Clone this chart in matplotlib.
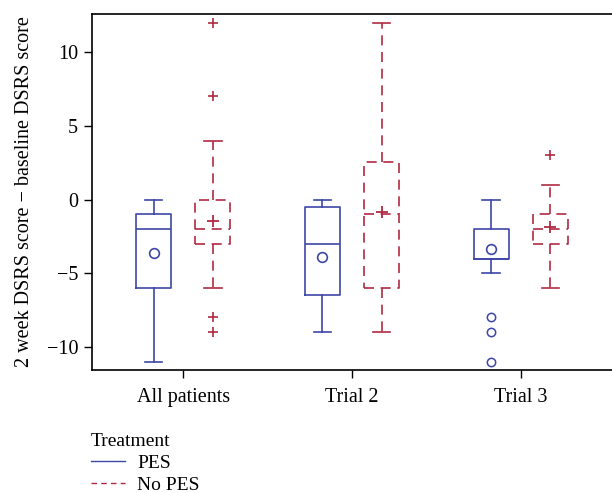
import matplotlib
matplotlib.use("Agg")
import matplotlib.pyplot as plt
from matplotlib.lines import Line2D

plt.rcParams['font.family'] = ['Liberation Serif', 'DejaVu Serif']

categories = ["All patients", "Trial 2", "Trial 3"]
groups = ["PES", "No PES"]

# PES stats per category
pes_whislo = [-11, -9, -5]
pes_q1 = [-6, -6.5, -4]
pes_med = [-2, -3, -4]
pes_q3 = [-1, -0.5, -2]
pes_whishi = [0, 0, 0]
pes_mean = [-3.63, -3.88, -3.33]
pes_fliers = [[], [], [-8, -9, -11]]

# No PES stats per category
nopes_whislo = [-6, -9, -6]
nopes_q1 = [-3, -6, -3]
nopes_med = [-2, -1, -2]
nopes_q3 = [0, 2.55, -1]
nopes_whishi = [4, 12, 1]
nopes_mean = [-1.46, -0.85, -1.86]
nopes_fliers = [[12, 7, -8, -9], [], [3]]

blue = "#3D47A6"
red = "#B02A42"

fig = plt.figure(figsize=(6.12, 4.93), dpi=100)
ax = fig.add_axes([0.1503, 0.2495, 0.8497, 0.7221])

def make_stats(lo, q1, med, q3, hi, mean, fl):
    return [dict(whislo=a, q1=b, med=c, q3=d, whishi=e, mean=m, fliers=f)
            for a, b, c, d, e, m, f in zip(lo, q1, med, q3, hi, mean, fl)]

pos = list(range(1, len(categories) + 1))
off = 0.175
w = 0.21

pes_stats = make_stats(pes_whislo, pes_q1, pes_med, pes_q3, pes_whishi, pes_mean, pes_fliers)
nopes_stats = make_stats(nopes_whislo, nopes_q1, nopes_med, nopes_q3, nopes_whishi, nopes_mean, nopes_fliers)

lw = 1.2
ax.bxp(pes_stats, positions=[p - off for p in pos], widths=w, showmeans=True,
       boxprops=dict(color=blue, lw=lw), whiskerprops=dict(color=blue, lw=lw),
       capprops=dict(color=blue, lw=lw), medianprops=dict(color=blue, lw=lw),
       meanprops=dict(marker='o', markerfacecolor='none', markeredgecolor=blue, markersize=7, mew=1.2),
       flierprops=dict(marker='o', markerfacecolor='none', markeredgecolor=blue, markersize=6, mew=1.1),
       manage_ticks=False)

ds = (0, (6, 4))
ax.bxp(nopes_stats, positions=[p + off for p in pos], widths=w, showmeans=True,
       boxprops=dict(color=red, lw=lw, linestyle=ds), whiskerprops=dict(color=red, lw=lw, linestyle=ds),
       capprops=dict(color=red, lw=lw), medianprops=dict(color=red, lw=lw, linestyle=ds),
       meanprops=dict(marker='+', markeredgecolor=red, markersize=8, mew=1.3),
       flierprops=dict(marker='+', markeredgecolor=red, markersize=7, mew=1.2),
       manage_ticks=False)

fs = 14.5
ax.set_xlim(0.46, 3.54)
ax.set_ylim(-11.56, 12.58)
ax.set_xticks(pos)
ax.set_xticklabels(categories)
ax.set_yticks([-10, -5, 0, 5, 10])
ax.set_yticklabels(["\u221210", "\u22125", "0", "5", "10"])
ax.tick_params(axis='both', labelsize=fs, length=6, width=1, direction='out', pad=4)
ax.tick_params(axis='x', pad=7)
ax.spines['right'].set_visible(False)
for s in ['left', 'top', 'bottom']:
    ax.spines[s].set_linewidth(1.2)
ax.set_ylabel("2 week DSRS score \u2212 baseline DSRS score", fontsize=fs, labelpad=9)

lfs = 14
handles = [Line2D([], [], color=blue, lw=1), Line2D([], [], color=red, lw=1, linestyle=(0, (4, 3)))]
leg = fig.legend(handles, groups, title="Treatment", loc='upper left',
                 bbox_to_anchor=(0.148, 0.122), frameon=False, fontsize=lfs, title_fontsize=lfs,
                 handlelength=1.75, handletextpad=0.65, labelspacing=0.22, borderaxespad=0,
                 borderpad=0)
leg._legend_box.align = "left"

fig.savefig("out.png", dpi=100)
